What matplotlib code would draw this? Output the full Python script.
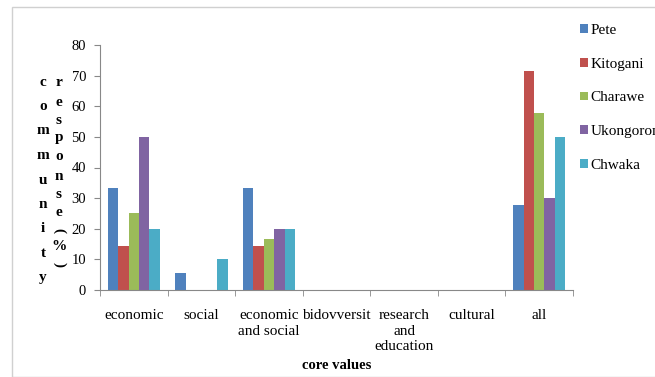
import matplotlib
matplotlib.use("Agg")
import matplotlib.pyplot as plt
import numpy as np
from matplotlib.patches import Rectangle

categories = ["economic", "social", "economic\nand social", "bidovversit",
              "research\nand\neducation", "cultural", "all"]
series_names = ["Pete", "Kitogani", "Charawe", "Ukongoroni", "Chwaka"]
pete = [33.3, 5.6, 33.3, 0, 0, 0, 27.8]
kitogani = [14.3, 0, 14.3, 0, 0, 0, 71.4]
charawe = [25.0, 0, 16.7, 0, 0, 0, 57.9]
ukongoroni = [50.0, 0, 20.0, 0, 0, 0, 30.0]
chwaka = [20.0, 10.0, 20.0, 0, 0, 0, 50.0]
colors = ["#4F81BD", "#C0504D", "#9BBB59", "#8064A2", "#4BACC6"]
yticks = [0, 10, 20, 30, 40, 50, 60, 70, 80]

plt.rcParams['font.family'] = ['Liberation Serif', 'DejaVu Serif']

fig = plt.figure(figsize=(6.55, 3.77), dpi=100)
fig.patches.append(Rectangle((12/655, 0), 1, 1 - 7/377, transform=fig.transFigure,
                             fill=False, edgecolor="#d0d0d0", linewidth=1))
ax = fig.add_axes([100/655, 1 - 290/377, 473/655, 245/377])

data = [pete, kitogani, charawe, ukongoroni, chwaka]
x = np.arange(len(categories))
w = 0.155
for i, (vals, name, c) in enumerate(zip(data, series_names, colors)):
    ax.bar(x + (i - 2) * w, vals, width=w, color=c, label=name, edgecolor="none")

ax.set_xlim(-0.5, len(categories) - 0.5)
ax.set_ylim(0, 80)
ax.set_yticks(yticks)
ax.set_xticks(x)
ax.set_xticklabels(categories, fontsize=11, linespacing=1.25)
ax.set_xticks(np.arange(-0.5, len(categories), 1), minor=True)
ax.tick_params(axis='x', which='major', length=0, pad=14)
ax.tick_params(axis='x', which='minor', length=4, color="#888888", direction='out')
ax.tick_params(axis='y', labelsize=10.5, length=4, color="#888888", pad=6)
for s in ["top", "right"]:
    ax.spines[s].set_visible(False)
for s in ["left", "bottom"]:
    ax.spines[s].set_color("#888888")

ax.set_xlabel("core values", fontsize=10.5, fontweight="bold", labelpad=4)

# stacked vertical y label
word1 = "community"
for k, ch in enumerate(word1):
    fig.text(43/655, 1 - (82 + k * 24.5)/377, ch, fontsize=11, fontweight="bold",
             ha="center", va="center")
word2 = ["r", "e", "s", "p", "o", "n", "s", "e", "(", "%", ")"]
pos2 = [82, 102, 120, 138, 157, 177, 195, 213, 230, 247, 264]
for ch, yy in zip(word2, pos2):
    rot = -90 if ch in "()" else 0
    fig.text(59/655, 1 - yy/377, ch, fontsize=11, fontweight="bold",
             ha="center", va="center", rotation=rot)

leg = fig.legend(loc="upper left", bbox_to_anchor=(574/655, 1 - 18/377), frameon=False,
                 fontsize=11, handlelength=0.5, handleheight=0.5, handletextpad=0.2,
                 labelspacing=1.35, borderaxespad=0)

fig.savefig("out.png", dpi=100)
